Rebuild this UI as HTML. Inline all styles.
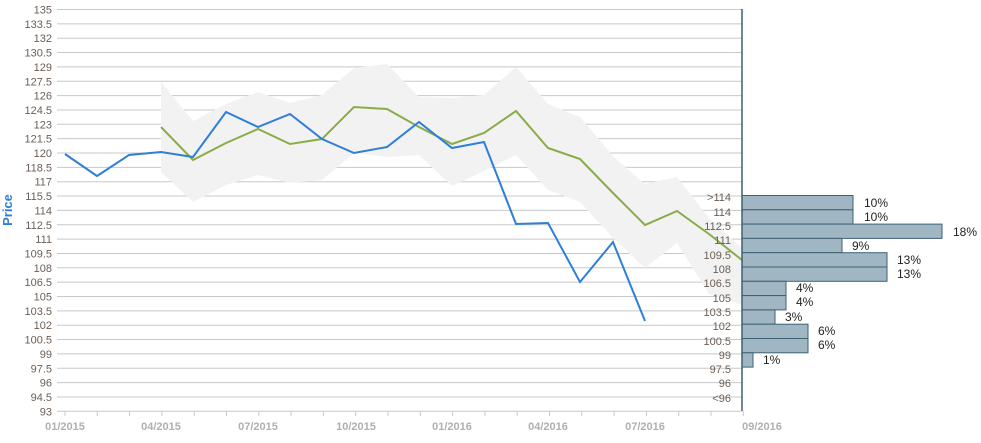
<!DOCTYPE html>
<html><head><meta charset="utf-8"><style>
body{margin:0;background:#fff;}
svg text{font-family:"Liberation Sans",sans-serif;}
</style></head><body>
<svg width="981" height="438" xmlns="http://www.w3.org/2000/svg">
<g id="grid" stroke="#c8c8c8" stroke-width="1"></g>
<g id="ylab" font-size="11" fill="#6b5e55" text-anchor="end"></g>
<polygon fill="#f2f2f2" points="161,82 193,121 226,104 258,92 290,103 322,95 354,68 387,64 419,97 452,98 484,95 516,67 548,104 580,117 613,156 645,184 677,177 709,218 742,248 742,305 709,294 677,243 645,268 613,238 580,202 548,190 516,155 484,171 452,186 419,155 387,157 354,153 322,180 290,183 258,175 226,185 193,202 161,172"/>
<polyline fill="none" stroke="#8aac48" stroke-width="2" points="161,127 193,160 226,143 258,129 290,144 322,139 354,107 387,109 419,127 452,144 484,133 516,111 548,148 580,159 613,193 645,225 677,211 709,234 742,260"/>
<polyline fill="none" stroke="#2e7fd8" stroke-width="2" points="65,154 97,176 129,155 161,152 193,157 226,112 258,127 290,114 322,139 354,153 387,147 419,122 452,148 484,142 516,224 548,223 580,282 613,242 645,321"/>
<g fill="#a0b6c3" stroke="#3d6274" stroke-width="1">
<rect x="742" y="195.5" width="111" height="14.3"/>
<rect x="742" y="209.8" width="111" height="14.3"/>
<rect x="742" y="224.1" width="200" height="14.3"/>
<rect x="742" y="238.4" width="100" height="14.3"/>
<rect x="742" y="252.7" width="145" height="14.3"/>
<rect x="742" y="267" width="145" height="14.3"/>
<rect x="742" y="281.3" width="44" height="14.3"/>
<rect x="742" y="295.6" width="44" height="14.3"/>
<rect x="742" y="309.9" width="33" height="14.3"/>
<rect x="742" y="324.2" width="66" height="14.3"/>
<rect x="742" y="338.5" width="66" height="14.3"/>
<rect x="742" y="352.8" width="11" height="14.3"/>
</g>
<g font-size="12" fill="#222">
<text x="864" y="207">10%</text><text x="864" y="221">10%</text><text x="953" y="236">18%</text>
<text x="852" y="250">9%</text><text x="897" y="264">13%</text><text x="897" y="278">13%</text>
<text x="796" y="292">4%</text><text x="796" y="306">4%</text><text x="785" y="321">3%</text>
<text x="818" y="335">6%</text><text x="818" y="349">6%</text><text x="763" y="364">1%</text>
</g>
<g font-size="11" fill="#6b5e55" text-anchor="end">
<text x="731" y="201">&gt;114</text><text x="731" y="216">114</text><text x="731" y="230">112.5</text>
<text x="731" y="244">111</text><text x="731" y="259">109.5</text><text x="731" y="273">108</text>
<text x="731" y="287">106.5</text><text x="731" y="302">105</text><text x="731" y="316">103.5</text>
<text x="731" y="330">102</text><text x="731" y="345">100.5</text><text x="731" y="359">99</text>
<text x="731" y="373">97.5</text><text x="731" y="387">96</text><text x="731" y="402">&lt;96</text>
</g>
<line x1="742" y1="9" x2="742" y2="411" stroke="#3d6274" stroke-width="1.5"/>
<g id="xt" stroke="#c8c8c8"></g>
<g font-size="11" font-weight="bold" fill="#b0b0b0" text-anchor="middle">
<text x="65" y="430">01/2015</text><text x="161" y="430">04/2015</text><text x="258" y="430">07/2015</text>
<text x="356" y="430">10/2015</text><text x="452" y="430">01/2016</text><text x="548" y="430">04/2016</text>
<text x="645" y="430">07/2016</text><text x="762" y="430">09/2016</text>
</g>
<text x="12" y="210" font-size="13" font-weight="bold" fill="#2e7fd8" text-anchor="middle" transform="rotate(-90 12 210)">Price</text>
<script>
var g=document.getElementById('grid'),l=document.getElementById('ylab'),ns='http://www.w3.org/2000/svg';
for(var i=0;i<=28;i++){var y=9.5+i*14.35,v=135-i*1.5;
var ln=document.createElementNS(ns,'line');ln.setAttribute('x1',57);ln.setAttribute('x2',742);ln.setAttribute('y1',y);ln.setAttribute('y2',y);g.appendChild(ln);
var t=document.createElementNS(ns,'text');t.setAttribute('x',52);t.setAttribute('y',y+4);t.textContent=v;l.appendChild(t);}
var xt=document.getElementById('xt');
for(var k=0;k<22;k++){var x=65+k*32.3;var ln=document.createElementNS(ns,'line');ln.setAttribute('x1',x);ln.setAttribute('x2',x);ln.setAttribute('y1',411);ln.setAttribute('y2',416);xt.appendChild(ln);}
</script>
</svg>
</body></html>
